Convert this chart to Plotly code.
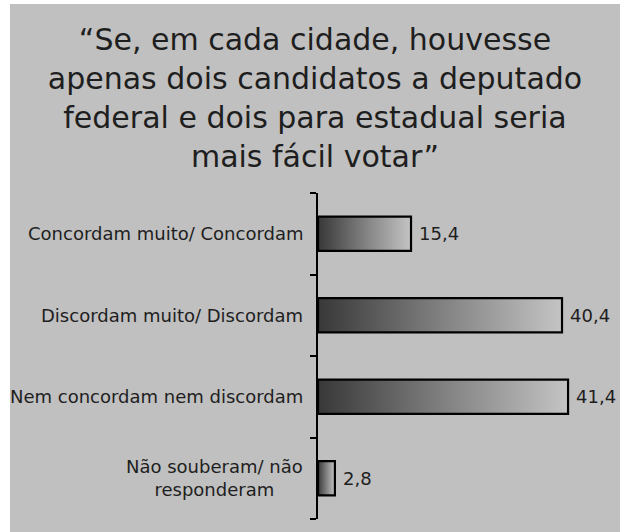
import plotly.graph_objects as go

categories = ["Concordam muito/ Concordam", "Discordam muito/ Discordam",
              "Nem concordam nem discordam", "Não souberam/ não<br>responderam"]
values = [15.4, 40.4, 41.4, 2.8]
value_labels = ["15,4", "40,4", "41,4", "2,8"]
title_text = "“Se, em cada cidade, houvesse<br>apenas dois candidatos a deputado<br>federal e dois para estadual seria<br>mais fácil votar”"

W, H = 620, 532
ML, MR, MT, MB = 318, 0, 193, 13
PW, PH = W - ML - MR, H - MT - MB
BG = "#c0c0c0"
FONT = "DejaVu Sans"
TXT = "#1e1e1e"
half = 0.21

fig = go.Figure()
for i, v in enumerate(values):
    fig.add_trace(go.Scatter(
        x=[0, v, v, 0, 0], y=[i - half, i - half, i + half, i + half, i - half],
        mode="lines", fill="toself",
        fillgradient=dict(type="horizontal",
                          colorscale=[[0, "#383838"], [0.5, "#808080"], [1, "#c4c4c4"]]),
        line=dict(color="#000000", width=2.2), hoverinfo="skip", showlegend=False))
    fig.add_annotation(x=v, y=i, xref="x", yref="y", text=value_labels[i],
                       showarrow=False, xanchor="left", xshift=6,
                       font=dict(family=FONT, size=18, color=TXT))
    fig.add_annotation(x=0, y=i, xref="paper", yref="y", text=categories[i],
                       showarrow=False, xanchor="right", xshift=-13, align="center",
                       font=dict(family=FONT, size=18, color=TXT))

def px2paper_x(px):
    return (px - ML) / PW

def px2paper_y(py):
    return (H - MB - py) / PH

# white strips on left and top edges
fig.add_shape(type="rect", xref="paper", yref="paper", layer="below",
              x0=px2paper_x(0), x1=px2paper_x(10), y0=px2paper_y(H), y1=px2paper_y(0),
              fillcolor="white", line=dict(width=0))
fig.add_shape(type="rect", xref="paper", yref="paper", layer="below",
              x0=px2paper_x(0), x1=px2paper_x(W), y0=px2paper_y(4), y1=px2paper_y(0),
              fillcolor="white", line=dict(width=0))

fig.update_layout(
    width=W, height=H,
    margin=dict(l=ML, r=MR, t=MT, b=MB, pad=0),
    paper_bgcolor=BG, plot_bgcolor=BG,
    title=dict(text=title_text, x=315 / W, xanchor="center", xref="container",
               y=1 - 50 / H, yanchor="top", yref="container",
               font=dict(family=FONT, size=30, color=TXT)),
    xaxis=dict(range=[0, 50], visible=False, fixedrange=True),
    yaxis=dict(range=[3.5, -0.5], tickvals=[-0.5, 0.5, 1.5, 2.5, 3.5],
               showticklabels=False, ticks="outside", ticklen=6, tickwidth=1.5,
               tickcolor="#000", showline=True, linecolor="#000", linewidth=1.5,
               showgrid=False, zeroline=False, fixedrange=True),
)
fig.write_html("out.html", config={"displayModeBar": False},
               post_script="document.body.style.margin='0';document.body.style.padding='0';")
